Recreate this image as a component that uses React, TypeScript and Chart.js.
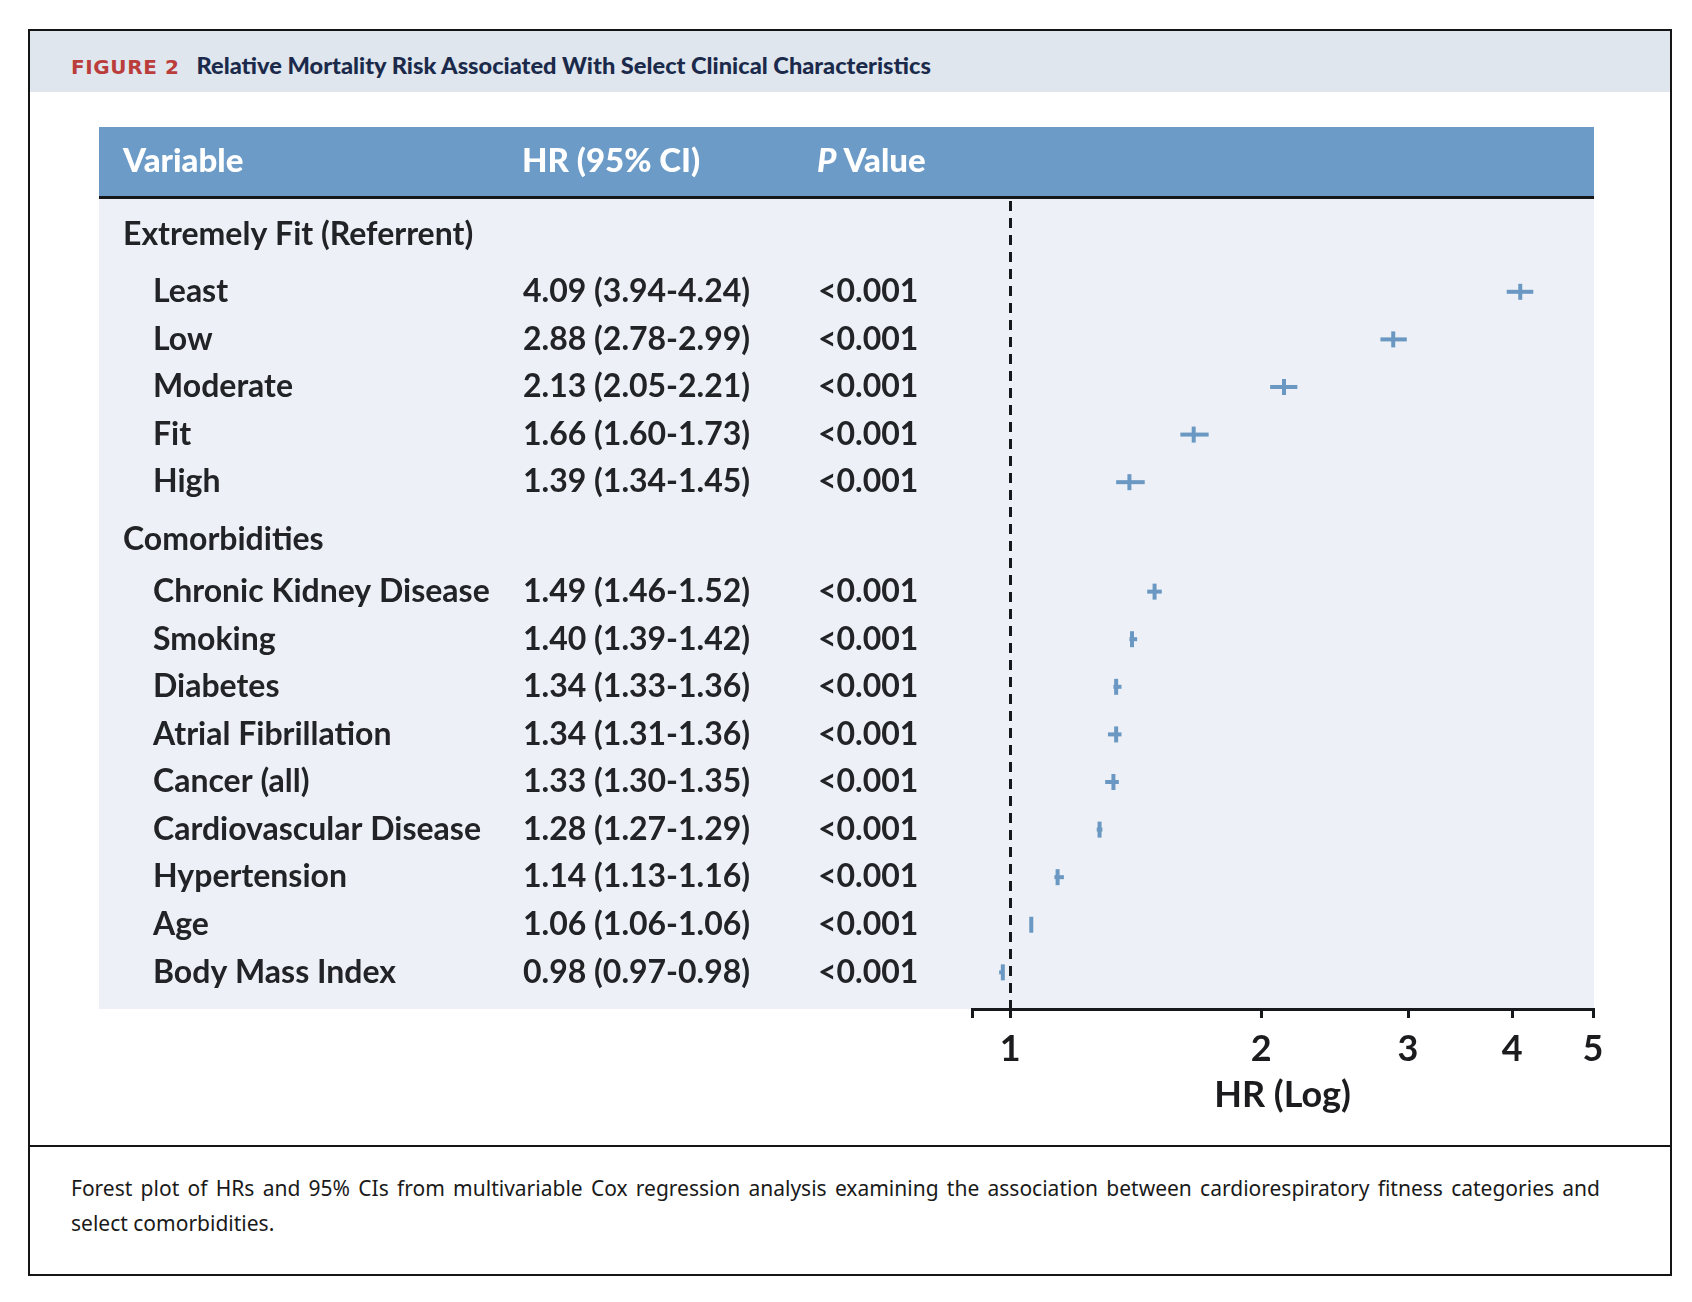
import React, { useEffect, useRef } from 'react';
import { Chart, registerables } from 'chart.js';

Chart.register(...registerables);

// ---------------- data ----------------
const FIGURE_LABEL = 'FIGURE 2';
const FIGURE_TITLE = 'Relative Mortality Risk Associated With Select Clinical Characteristics';
const CAPTION_LINE_1 =
  'Forest plot of HRs and 95% CIs from multivariable Cox regression analysis examining the association between cardiorespiratory fitness categories and';
const CAPTION_LINE_2 = 'select comorbidities.';

const COLUMN_HEADERS = ['Variable', 'HR (95% CI)', 'Value'];
const P_HEADER_ITALIC = 'P';
const GROUP_LABELS = ['Extremely Fit (Referrent)', 'Comorbidities'];
const VARIABLES = [
  'Least',
  'Low',
  'Moderate',
  'Fit',
  'High',
  'Chronic Kidney Disease',
  'Smoking',
  'Diabetes',
  'Atrial Fibrillation',
  'Cancer (all)',
  'Cardiovascular Disease',
  'Hypertension',
  'Age',
  'Body Mass Index',
];
const VARIABLE_GROUP = [0, 0, 0, 0, 0, 1, 1, 1, 1, 1, 1, 1, 1, 1];
const HR = [4.09, 2.88, 2.13, 1.66, 1.39, 1.49, 1.4, 1.34, 1.34, 1.33, 1.28, 1.14, 1.06, 0.98];
const CI_LOW = [3.94, 2.78, 2.05, 1.6, 1.34, 1.46, 1.39, 1.33, 1.31, 1.3, 1.27, 1.13, 1.06, 0.97];
const CI_HIGH = [4.24, 2.99, 2.21, 1.73, 1.45, 1.52, 1.42, 1.36, 1.36, 1.35, 1.29, 1.16, 1.06, 0.98];
const P_VALUES = [
  '<0.001', '<0.001', '<0.001', '<0.001', '<0.001', '<0.001', '<0.001',
  '<0.001', '<0.001', '<0.001', '<0.001', '<0.001', '<0.001', '<0.001',
];
const X_TICKS = [0.9, 1, 2, 3, 4, 5];
const X_MIN = 0.9;
const X_MAX = 5;
const REFERENCE_HR = 1;
const X_TITLE = 'HR (Log)';

// ---------------- styling / layout ----------------
const HEADER_BG = '#6b9bc6';
const BODY_BG = '#edf1f7';
const RULE_COLOR = '#16181c';
const TEXT_COLOR = '#222326';
const MARK_COLOR = '#6a98c2';
const CANVAS_W = 1541;
const CANVAS_H = 990;
const X_AXIS_H = 108;
const TABLE_RIGHT = 1495;
const HEADER_H = 69;
const RULE_H = 3;
const COL_GROUP_X = 24;
const COL_ITEM_X = 54;
const COL_HR_X = 424;
const COL_P_X = 719;
const HEAD_X = [24, 423, 718];
const HEAD_Y = 34;
const BODY_FONT = 'bold 32px Lato';
const HEAD_FONT = '900 33px Lato';

// row layout on the (hidden) vertical scale
const Y_MAX = 17.02;
const FIRST_ROW = 0.75;
const AFTER_GROUP = [1.2, 1.1];
const BEFORE_GROUP = 1.2;

type Row = { kind: 'group' | 'item'; idx: number; y: number };
function buildRows(): Row[] {
  const rows: Row[] = [];
  let y = FIRST_ROW;
  GROUP_LABELS.forEach((_, gi) => {
    if (gi > 0) y += BEFORE_GROUP - 1;
    rows.push({ kind: 'group', idx: gi, y });
    y += AFTER_GROUP[gi];
    VARIABLES.forEach((_, i) => {
      if (VARIABLE_GROUP[i] === gi) {
        rows.push({ kind: 'item', idx: i, y });
        y += 1;
      }
    });
  });
  return rows;
}
const ROWS = buildRows();
const itemY = (i: number) => ROWS.find((r) => r.kind === 'item' && r.idx === i)!.y;
const fmt = (v: number) => v.toFixed(2);

const tablePlugin = {
  id: 'forestTable',
  beforeDraw(chart: any) {
    const { ctx, chartArea } = chart;
    ctx.save();
    ctx.fillStyle = HEADER_BG;
    ctx.fillRect(0, 0, TABLE_RIGHT, HEADER_H);
    ctx.fillStyle = RULE_COLOR;
    ctx.fillRect(0, HEADER_H, TABLE_RIGHT, RULE_H);
    ctx.fillStyle = BODY_BG;
    ctx.fillRect(0, HEADER_H + RULE_H, TABLE_RIGHT, chartArea.bottom - HEADER_H - RULE_H);

    // header text
    ctx.fillStyle = '#ffffff';
    ctx.textBaseline = 'middle';
    ctx.textAlign = 'left';
    ctx.font = HEAD_FONT;
    ctx.fillText(COLUMN_HEADERS[0], HEAD_X[0], HEAD_Y);
    ctx.fillText(COLUMN_HEADERS[1], HEAD_X[1], HEAD_Y);
    ctx.font = 'italic ' + HEAD_FONT;
    ctx.fillText(P_HEADER_ITALIC, HEAD_X[2], HEAD_Y);
    const pw = ctx.measureText(P_HEADER_ITALIC + ' ').width;
    ctx.font = HEAD_FONT;
    ctx.fillText(COLUMN_HEADERS[2], HEAD_X[2] + pw, HEAD_Y);

    // body text
    const yScale = chart.scales.y;
    ctx.fillStyle = TEXT_COLOR;
    ctx.font = BODY_FONT;
    ROWS.forEach((r) => {
      const py = yScale.getPixelForValue(r.y);
      if (r.kind === 'group') {
        ctx.fillText(GROUP_LABELS[r.idx], COL_GROUP_X, py);
      } else {
        const i = r.idx;
        ctx.fillText(VARIABLES[i], COL_ITEM_X, py);
        ctx.fillText(`${fmt(HR[i])} (${fmt(CI_LOW[i])}-${fmt(CI_HIGH[i])})`, COL_HR_X, py);
        ctx.fillText(P_VALUES[i], COL_P_X, py);
      }
    });
    ctx.restore();
  },
  beforeDatasetsDraw(chart: any) {
    const { ctx, chartArea, scales } = chart;
    const x = Math.round(scales.x.getPixelForValue(REFERENCE_HR)) + 0.5;
    ctx.save();
    ctx.strokeStyle = RULE_COLOR;
    ctx.lineWidth = 3;
    ctx.setLineDash([10, 7]);
    ctx.beginPath();
    ctx.moveTo(x, HEADER_H + RULE_H + 2);
    ctx.lineTo(x, chartArea.bottom + 8);
    ctx.stroke();
    ctx.restore();
  },
};

export default function App() {
  const canvasRef = useRef<HTMLCanvasElement | null>(null);

  useEffect(() => {
    if (!canvasRef.current) return;
    const ciSets = VARIABLES.map((_, i) => ({
      type: 'scatter' as const,
      data: [
        { x: CI_LOW[i], y: itemY(i) },
        { x: CI_HIGH[i], y: itemY(i) },
      ],
      showLine: true,
      borderColor: MARK_COLOR,
      borderWidth: 4,
      pointRadius: 0,
      pointHoverRadius: 0,
    }));
    const pointSet = {
      type: 'scatter' as const,
      data: VARIABLES.map((_, i) => ({ x: HR[i], y: itemY(i) })),
      pointStyle: 'line' as const,
      rotation: 90,
      pointRadius: 8,
      pointHoverRadius: 8,
      pointBorderWidth: 4,
      borderColor: MARK_COLOR,
      backgroundColor: MARK_COLOR,
      showLine: false,
    };
    const chart = new Chart(canvasRef.current, {
      type: 'scatter',
      data: { datasets: [...ciSets, pointSet] as any },
      options: {
        animation: false,
        responsive: false,
        maintainAspectRatio: false,
        events: [],
        layout: { padding: { top: HEADER_H + RULE_H, left: 873, right: 47, bottom: 0 } },
        plugins: {
          legend: { display: false },
          tooltip: { enabled: false },
        },
        scales: {
          x: {
            type: 'logarithmic',
            min: X_MIN,
            max: X_MAX,
            position: 'bottom',
            afterBuildTicks: (scale: any) => {
              scale.ticks = X_TICKS.map((v) => ({ value: v }));
            },
            afterFit: (scale: any) => {
              scale.height = X_AXIS_H;
            },
            ticks: {
              autoSkip: false,
              maxRotation: 0,
              padding: 10,
              color: '#1c1c1e',
              font: { family: 'Lato', size: 36, weight: 'bold' },
              callback: (v: any) => (Number(v) === X_MIN ? '' : String(v)),
            },
            grid: {
              display: true,
              drawOnChartArea: false,
              drawTicks: true,
              tickLength: 9,
              color: RULE_COLOR,
              lineWidth: 3,
            },
            border: { display: true, color: RULE_COLOR, width: 3 },
            title: {
              display: true,
              text: X_TITLE,
              color: '#1c1c1e',
              font: { family: 'Lato', size: 36, weight: 'bold' },
              padding: { top: 0, bottom: 0 },
            },
          },
          y: {
            type: 'linear',
            reverse: true,
            min: 0,
            max: Y_MAX,
            display: false,
          },
        },
      },
      plugins: [tablePlugin],
    });
    return () => chart.destroy();
  }, []);

  return (
    <div style={{ position: 'absolute', left: 0, top: 0, width: 1692, height: 1302, background: '#ffffff' }}>
      <div
        style={{
          position: 'absolute',
          left: 28,
          top: 29,
          width: 1644,
          height: 1247,
          border: '2px solid #151515',
          boxSizing: 'border-box',
        }}
      />
      <div style={{ position: 'absolute', left: 30, top: 31, width: 1640, height: 61, background: '#dfe6ee' }} />
      <div
        style={{
          position: 'absolute',
          left: 71,
          top: 50,
          height: 30,
          lineHeight: '30px',
          whiteSpace: 'nowrap',
        }}
      >
        <span
          style={{
            fontFamily: '"DejaVu Sans", sans-serif',
            fontWeight: 'bold',
            fontSize: 20,
            letterSpacing: 0.6,
            color: '#bb3d3b',
          }}
        >
          {FIGURE_LABEL}
        </span>
        <span
          style={{
            fontFamily: 'Lato, sans-serif',
            fontWeight: 900,
            fontSize: 23.6,
            color: '#1b2a4a',
            marginLeft: 17,
          }}
        >
          {FIGURE_TITLE}
        </span>
      </div>
      <canvas
        ref={canvasRef}
        width={CANVAS_W}
        height={CANVAS_H}
        style={{ position: 'absolute', left: 99, top: 127, width: CANVAS_W, height: CANVAS_H }}
      />
      <div style={{ position: 'absolute', left: 29, top: 1145, width: 1642, height: 2, background: '#151515' }} />
      <div
        style={{
          position: 'absolute',
          left: 71,
          top: 1171,
          width: 1529,
          fontFamily: '"Noto Sans", sans-serif',
          fontSize: 21,
          lineHeight: '35px',
          color: '#1a1a1a',
        }}
      >
        <div style={{ textAlign: 'justify', textAlignLast: 'justify' as any, whiteSpace: 'nowrap' }}>{CAPTION_LINE_1}</div>
        <div>{CAPTION_LINE_2}</div>
      </div>
    </div>
  );
}
